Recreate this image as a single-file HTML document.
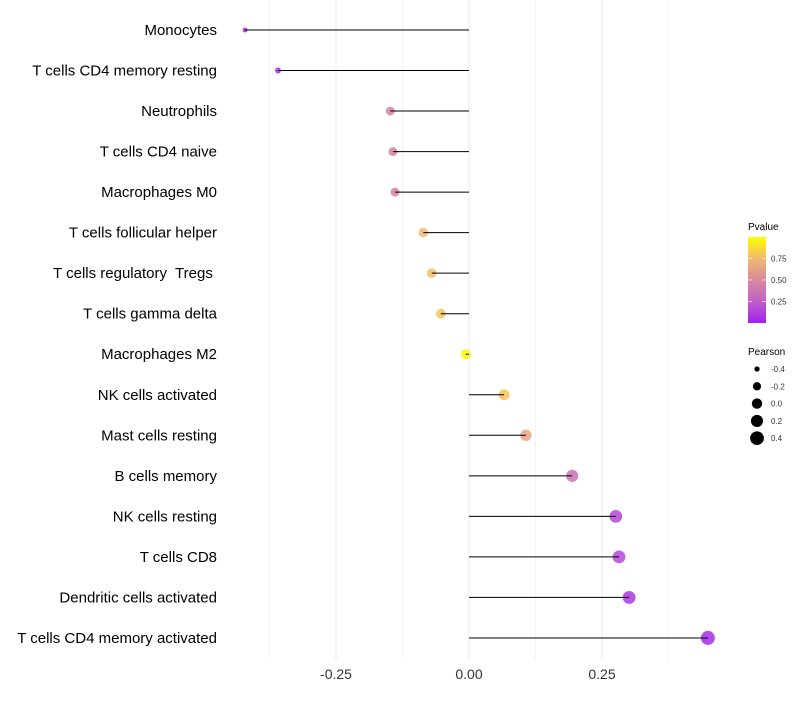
<!DOCTYPE html>
<html><head><meta charset="utf-8"><style>
body{margin:0;background:#fff;font-family:"Liberation Sans",sans-serif}
svg text{font-family:"Liberation Sans",sans-serif;white-space:pre}
</style></head><body>
<svg id="chart" width="800" height="700" xmlns="http://www.w3.org/2000/svg">
<defs><linearGradient id="pg" x1="0" y1="1" x2="0" y2="0">
<stop offset="0" stop-color="#a020f0"/><stop offset="0.25" stop-color="#c060c8"/><stop offset="0.5" stop-color="#d98a9c"/><stop offset="0.75" stop-color="#f0b870"/><stop offset="1" stop-color="#ffff00"/></linearGradient></defs>
<g id="grid"></g>
<g id="points"></g>
<g id="marks"></g>
<g id="ylabels"></g>
<g id="xlabels"></g>
<g>
<text x="748" y="230" font-size="10" fill="#000">Pvalue</text>
<rect x="748" y="237" width="18" height="86" fill="url(#pg)"/>
<g id="cbticks"></g>
</g>
<g id="sizeleg">
<text x="748" y="355" font-size="10" fill="#000">Pearson</text>
</g>
</svg>
<script>
const categories=["Monocytes","T cells CD4 memory resting","Neutrophils","T cells CD4 naive","Macrophages M0","T cells follicular helper","T cells regulatory  Tregs ","T cells gamma delta","Macrophages M2","NK cells activated","Mast cells resting","B cells memory","NK cells resting","T cells CD8","Dendritic cells activated","T cells CD4 memory activated"];
const pearson=[-0.421,-0.359,-0.148,-0.143,-0.139,-0.086,-0.070,-0.053,-0.006,0.066,0.107,0.194,0.276,0.282,0.301,0.449];
const pvalue=[0.02,0.05,0.45,0.45,0.45,0.75,0.78,0.8,0.98,0.8,0.65,0.35,0.15,0.15,0.1,0.05];
const xTicks=[-0.25,0,0.25];
const xTickLabels=["-0.25","0.00","0.25"];
const cbTicks=[0.25,0.5,0.75];
const cbTickLabels=["0.25","0.50","0.75"];
const sizeLegend=[-0.4,-0.2,0,0.2,0.4];
const sizeLegendLabels=["-0.4","-0.2","0.0","0.2","0.4"];
const NS="http://www.w3.org/2000/svg";
const xs=v=>469+v*532;
const ys=i=>30+i*40.53;
const rs=v=>Math.sqrt(Math.max(3,9+(v+0.359)*50));
const stops=[[0,[160,32,240]],[0.25,[192,96,200]],[0.5,[217,138,156]],[0.75,[240,184,112]],[1,[255,255,0]]];
function col(p){for(let k=1;k<stops.length;k++){if(p<=stops[k][0]){const a=stops[k-1],b=stops[k],t=(p-a[0])/(b[0]-a[0]);return "rgb("+a[1].map((c,j)=>Math.round(c+(b[1][j]-c)*t)).join(",")+")";}}return "rgb(255,255,0)";}
function mk(t,a,p){const e=document.createElementNS(NS,t);for(const k in a)e.setAttribute(k,a[k]);p.appendChild(e);return e;}
const grid=document.getElementById("grid");
for(let v=-0.375;v<=0.4;v+=0.125){const l=mk("line",{x1:xs(v),x2:xs(v),y1:0,y2:660,stroke:"#ebebeb","stroke-width":Math.abs((v*4)%1)<1e-6?1:0.6},grid);

}
const marks=document.getElementById("marks"),pts=document.getElementById("points"),yl=document.getElementById("ylabels");
categories.forEach((c,i)=>{
const pt=mk("circle",{cx:xs(pearson[i]),cy:ys(i),r:rs(pearson[i]),fill:col(pvalue[i]),"fill-opacity":0.85},pts);


const ln=mk("line",{x1:xs(0),x2:xs(pearson[i]),y1:ys(i),y2:ys(i),stroke:"#000","stroke-width":1},marks);


const t=mk("text",{x:217,y:ys(i)+5,"text-anchor":"end","font-size":15,fill:"#000"},yl);t.textContent=c;


});
const xl=document.getElementById("xlabels");
xTicks.forEach((v,i)=>{const t=mk("text",{x:xs(v),y:679,"text-anchor":"middle","font-size":14,fill:"#333"},xl);t.textContent=xTickLabels[i];

});
const cb=document.getElementById("cbticks");
cbTicks.forEach((v,i)=>{const y=323-v*86;
mk("line",{x1:748,x2:752,y1:y,y2:y,stroke:"#fff","stroke-width":0.6},cb);mk("line",{x1:762,x2:766,y1:y,y2:y,stroke:"#fff","stroke-width":0.6},cb);
const t=mk("text",{x:771,y:y+3,"font-size":8,fill:"#333"},cb);t.textContent=cbTickLabels[i];

});
const sl=document.getElementById("sizeleg");
sizeLegend.forEach((v,i)=>{const y=369+i*17.3;
const c=mk("circle",{cx:757,cy:y,r:rs(v),fill:"#000"},sl);


const t=mk("text",{x:771,y:y+3,"font-size":8,fill:"#333"},sl);t.textContent=sizeLegendLabels[i];

});
</script>
</body></html>
